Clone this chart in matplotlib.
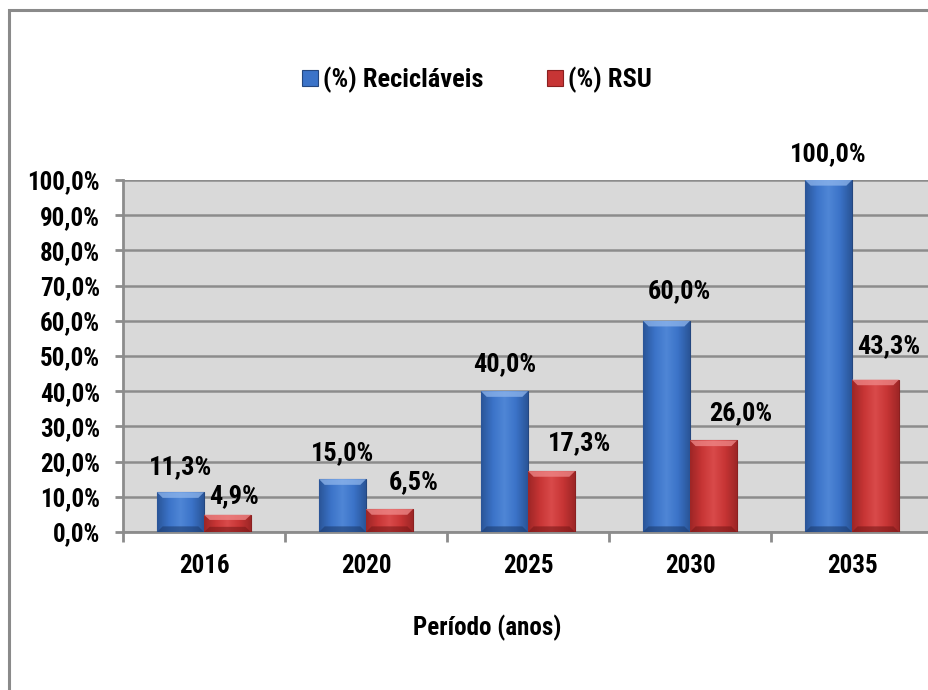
import numpy as np
import matplotlib
matplotlib.use("Agg")
import matplotlib.pyplot as plt
from matplotlib import font_manager
from matplotlib.patches import Rectangle, Polygon
from matplotlib.colors import LinearSegmentedColormap

# ---- data -------------------------------------------------------------
periods = ["2016", "2020", "2025", "2030", "2035"]
reciclaveis = [11.3, 15.0, 40.0, 60.0, 100.0]
rsu = [4.9, 6.5, 17.3, 26.0, 43.3]
series_names = ["(%) Recicláveis", "(%) RSU"]
y_ticks = [0, 10, 20, 30, 40, 50, 60, 70, 80, 90, 100]
x_title = "Período (anos)"

# value-label nudges (pixels: right, up from bar top to text centre)
blue_label_dx = [0, 0, 0, 13, 0]
blue_label_dy = [25, 26, 27, 30, 26]
red_label_dx = [7, 24, 28, 27, 13]
red_label_dy = [19, 27, 28, 27, 33]

# ---- fonts: prefer a narrow bold sans ---------------------------------
CONDENSED = {"condensed", "semi-condensed", "extra-condensed", "ultra-condensed"}
entries = font_manager.fontManager.ttflist


def is_narrow(e):
    st = e.stretch
    if isinstance(st, (int, float)):
        return st < 100
    return st in CONDENSED or "Narrow" in e.name or "Condensed" in e.name


narrow_bold = [e for e in entries if is_narrow(e)
               and (e.weight in ("bold", "semibold") or (isinstance(e.weight, int) and e.weight >= 600))]
preferred = ["Liberation Sans Narrow", "Arial Narrow", "Roboto Condensed",
             "Open Sans Condensed", "Noto Sans", "DejaVu Sans", "Open Sans", "Roboto"]
chosen = None
for name in preferred:
    hits = [e for e in narrow_bold if e.name == name]
    if hits:
        chosen = hits[0]
        break
if chosen is None and narrow_bold:
    chosen = narrow_bold[0]

if chosen is not None:
    FAMILY = chosen.name
    STRETCH = chosen.stretch
    SCALE = 1.0
else:
    FAMILY = "Liberation Sans"
    STRETCH = "normal"
    SCALE = 0.86

plt.rcParams["font.family"] = [FAMILY, "DejaVu Sans"]
plt.rcParams["font.weight"] = "bold"
plt.rcParams["font.stretch"] = STRETCH

PX = 0.72  # points per pixel at 100 dpi


def fs(size):
    return size * SCALE


def pct(v):
    return f"{v:.1f}%".replace(".", ",")


fig = plt.figure(figsize=(9.29, 6.90), dpi=100)

# outer chart frame
fig.patches.append(Rectangle((8.5 / 929, -0.05), 1.1, 1 - 9.5 / 690 + 0.05,
                             transform=fig.transFigure, fill=False,
                             edgecolor="#8a8a8a", linewidth=2.2, zorder=0))

ax = fig.add_axes([123 / 929, 1 - 532 / 690, 810 / 929, 352 / 690])
ax.set_facecolor("#d9d9d9")
ax.set_xlim(-0.5, len(periods) - 0.5)
ax.set_ylim(0, 100)

for s in ["top", "right"]:
    ax.spines[s].set_visible(False)
ax.spines["left"].set_color("#8c8c8c")
ax.spines["left"].set_linewidth(2.0)
ax.spines["bottom"].set_color("#8c8c8c")
ax.spines["bottom"].set_linewidth(2.0)

ax.set_yticks(y_ticks)
ax.set_yticklabels([pct(t) for t in y_ticks], fontsize=fs(18), fontweight="bold")
ax.tick_params(axis="y", length=6, width=2, color="#8c8c8c", pad=10.5)
ax.grid(axis="y", color="#8c8c8c", linewidth=1.8, zorder=1)
ax.set_axisbelow(True)

x = np.arange(len(periods))
ax.set_xticks(x)
ax.set_xticklabels(periods, fontsize=fs(18), fontweight="bold")
ax.tick_params(axis="x", which="major", length=0, pad=16)
ax.set_xticks(np.arange(len(periods) + 1) - 0.5, minor=True)
ax.tick_params(axis="x", which="minor", length=7, width=2, color="#8c8c8c")
ax.set_xlabel(x_title, fontsize=fs(18), fontweight="bold")
ax.xaxis.set_label_coords((487 - 123) / 810, -(628 - 532) / 352)
ax.xaxis.label.set_va("center")

width = 0.29
blue_cmap = LinearSegmentedColormap.from_list(
    "b", ["#2a5598", "#3b73c8", "#4f86d6", "#3b73c8", "#2a5598"])
red_cmap = LinearSegmentedColormap.from_list(
    "r", ["#9e2626", "#c73535", "#d94a4a", "#c73535", "#9e2626"])


def shade_bar(bar, cmap, top_light, side_dark):
    x0, y0 = bar.get_x(), bar.get_y()
    w, h = bar.get_width(), bar.get_height()
    grad = np.linspace(0, 1, 64).reshape(1, -1)
    im = ax.imshow(grad, cmap=cmap, aspect="auto",
                   extent=[x0, x0 + w, y0, y0 + h], zorder=3)
    im.set_clip_path(bar)
    # bevel on the top edge
    bev = min(1.6, h * 0.3)
    bx = w * 0.12
    ax.add_patch(Polygon([(x0, y0 + h), (x0 + w, y0 + h),
                          (x0 + w - bx, y0 + h - bev), (x0 + bx, y0 + h - bev)],
                         closed=True, facecolor=top_light, edgecolor="none",
                         alpha=0.75, zorder=4))
    ax.add_patch(Polygon([(x0, y0), (x0 + w, y0),
                          (x0 + w - bx, y0 + bev), (x0 + bx, y0 + bev)],
                         closed=True, facecolor=side_dark, edgecolor="none",
                         alpha=0.6, zorder=4))


bars_b = ax.bar(x - width / 2, reciclaveis, width, color="#3b73c8",
                edgecolor="#24477f", linewidth=0.8, zorder=3, label=series_names[0])
bars_r = ax.bar(x + width / 2, rsu, width, color="#c73535",
                edgecolor="#8a2020", linewidth=0.8, zorder=3, label=series_names[1])
for b in bars_b:
    shade_bar(b, blue_cmap, "#8fb6ec", "#1d3d70")
for b in bars_r:
    shade_bar(b, red_cmap, "#f08a8a", "#7a1818")

for b, v, dx, dy in zip(bars_b, reciclaveis, blue_label_dx, blue_label_dy):
    ax.annotate(pct(v), (b.get_x() + b.get_width() / 2, v),
                xytext=(dx * PX, dy * PX), textcoords="offset points",
                ha="center", va="center", fontsize=fs(19), fontweight="bold",
                annotation_clip=False)
for b, v, dx, dy in zip(bars_r, rsu, red_label_dx, red_label_dy):
    ax.annotate(pct(v), (b.get_x() + b.get_width() / 2, v),
                xytext=(dx * PX, dy * PX), textcoords="offset points",
                ha="center", va="center", fontsize=fs(19), fontweight="bold",
                annotation_clip=False)

leg = fig.legend(handles=[bars_b, bars_r], labels=series_names,
                 loc="center", bbox_to_anchor=(477 / 929, 1 - 80 / 690),
                 ncol=2, frameon=False, handlelength=0.6,
                 handleheight=0.6, handletextpad=0.2, columnspacing=2.4,
                 prop={"weight": "bold", "size": fs(19), "stretch": STRETCH})

fig.savefig("out.png", dpi=100)
